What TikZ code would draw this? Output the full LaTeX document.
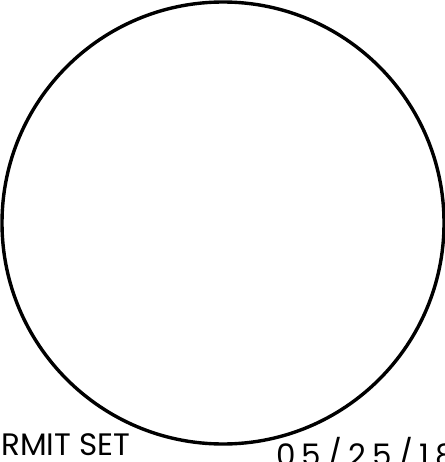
\documentclass[tikz,border=0pt]{standalone}
\usepackage{fontspec}
\setmainfont{Poppins}
\newfontfamily\datefont[LetterSpace=20]{Poppins}
\usetikzlibrary{positioning}

\begin{document}
\begin{tikzpicture}[x=1pt, y=-1pt]
    \useasboundingbox (0,0) rectangle (444,462);
    % Title block texts
    \tikzset{stamp/.style={anchor=base west, inner sep=0pt, font=\fontsize{31}{31}\selectfont}}

    % Outline of the sheet
    \draw[line width=3.4pt] (223,223) circle (221pt);

    \node[stamp] (setlabel) at (1,455) {RMIT SET};
    \node[stamp, font=\fontsize{31}{31}\datefont] (datelabel) at (276,466) {05/25/18};
\end{tikzpicture}
\end{document}
